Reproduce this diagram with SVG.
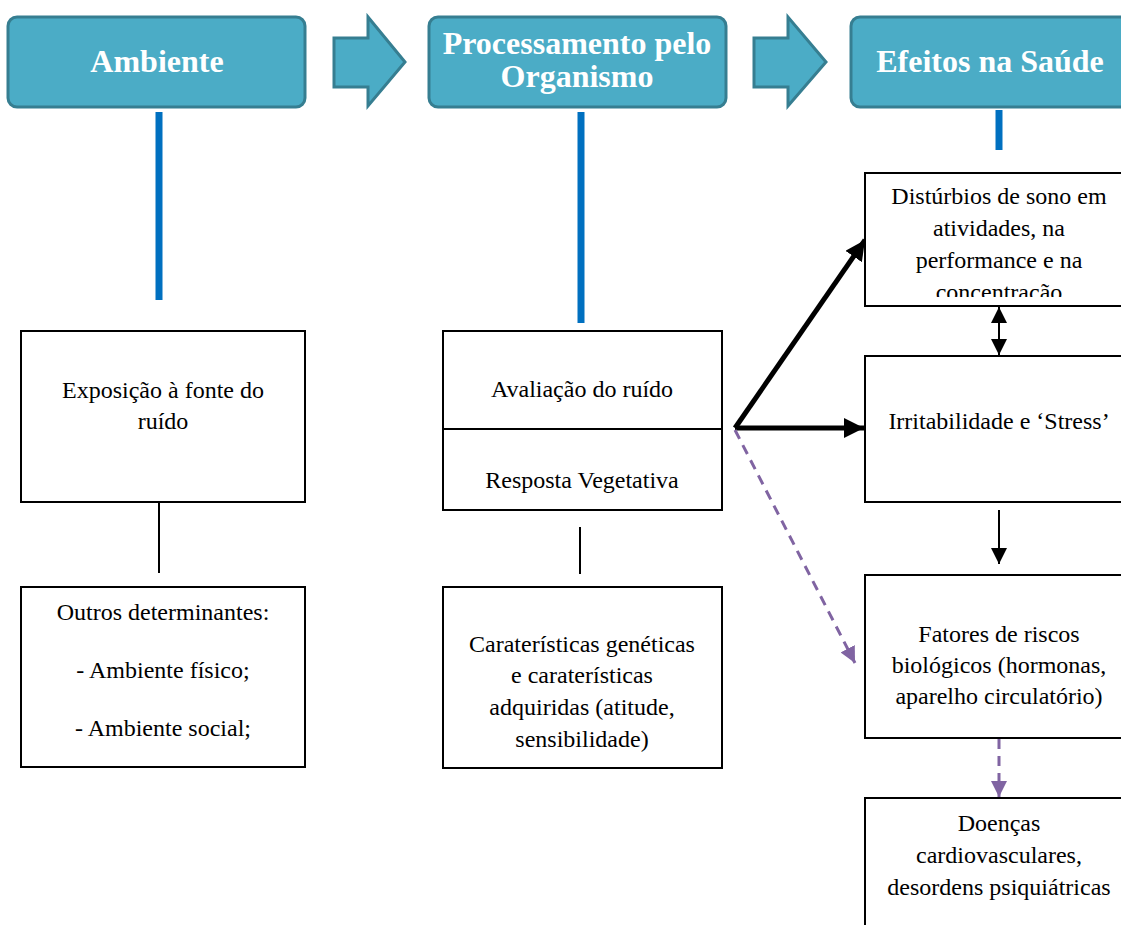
<svg xmlns="http://www.w3.org/2000/svg" width="1121" height="925" viewBox="0 0 1121 925">
<style>
.hdr{fill:#4bacc6;stroke:#367e91;stroke-width:3}
.hdrt{font-family:"Liberation Serif","Times New Roman",serif;font-weight:bold;font-size:32px;fill:#ffffff;text-anchor:middle}
.box{fill:#ffffff;stroke:#000000;stroke-width:2}
.t{font-family:"Liberation Serif","Times New Roman",serif;font-size:24px;fill:#000000;text-anchor:middle}
.blue{stroke:#0070c0;stroke-width:7}
.thin{stroke:#000000;stroke-width:2;fill:none}
.thick{stroke:#000000;stroke-width:5;fill:none}
.dash{stroke:#8064a2;stroke-width:3;stroke-dasharray:10 7;fill:none}
</style>
<defs>
<marker id="ah" markerUnits="userSpaceOnUse" viewBox="0 0 20 20" refX="20" refY="10" markerWidth="20" markerHeight="20" orient="auto"><path d="M0,0 L20,10 L0,20 Z" fill="#000"/></marker>
<marker id="as" markerUnits="userSpaceOnUse" viewBox="0 0 16 16" refX="16" refY="8" markerWidth="16" markerHeight="16" orient="auto-start-reverse"><path d="M0,0 L16,8 L0,16 Z" fill="#000"/></marker>
<marker id="ap" markerUnits="userSpaceOnUse" viewBox="0 0 16 16" refX="16" refY="8" markerWidth="16" markerHeight="16" orient="auto"><path d="M0,0 L16,8 L0,16 Z" fill="#8064a2"/></marker>
<clipPath id="clipA"><rect x="866" y="174" width="260" height="123"/></clipPath>
</defs>

<g id="header-ambiente">
<rect class="hdr" x="8" y="17" width="297" height="90" rx="9"/>
<text class="hdrt" x="157" y="72">Ambiente</text>
</g>
<g id="arrow-1">
<path class="hdr" d="M334,38 L368,38 L368,17 L405,62 L368,106 L368,87 L334,87 Z"/>
</g>
<g id="header-processamento">
<rect class="hdr" x="429" y="17" width="297" height="90" rx="9"/>
<text class="hdrt" x="577" y="54">Processamento pelo</text>
<text class="hdrt" x="577" y="87">Organismo</text>
</g>
<g id="arrow-2">
<path class="hdr" d="M754,38 L788,38 L788,17 L826,62 L788,106 L788,87 L754,87 Z"/>
</g>
<g id="header-efeitos">
<rect class="hdr" x="851" y="17" width="300" height="90" rx="9"/>
<text class="hdrt" x="990" y="72">Efeitos na Saúde</text>
</g>

<g id="connectors">
<line class="blue" x1="159" y1="112" x2="159" y2="300"/>
<line class="blue" x1="581" y1="112" x2="581" y2="323"/>
<line class="blue" x1="999" y1="110" x2="999" y2="150"/>
<line class="thin" x1="159" y1="502" x2="159" y2="573"/>
<line class="thin" x1="580" y1="527" x2="580" y2="574"/>
<line class="thick" x1="735" y1="428" x2="864" y2="428" marker-end="url(#ah)"/>
<line class="thick" x1="735" y1="428" x2="865" y2="240" marker-end="url(#ah)"/>
<line class="thin" x1="999" y1="307" x2="999" y2="355" marker-start="url(#as)" marker-end="url(#as)"/>
<line class="thin" x1="999" y1="510" x2="999" y2="564" marker-end="url(#as)"/>
<line class="dash" x1="735" y1="430" x2="855" y2="663" marker-end="url(#ap)"/>
<line class="dash" x1="999" y1="739" x2="999" y2="797" marker-end="url(#ap)"/>
</g>

<g id="box-exposicao">
<rect class="box" x="21" y="331" width="284" height="171"/>
<text class="t" x="163" y="398">Exposição à fonte do</text>
<text class="t" x="163" y="429">ruído</text>
</g>
<g id="box-outros">
<rect class="box" x="21" y="587" width="284" height="180"/>
<text class="t" x="163" y="620">Outros determinantes:</text>
<text class="t" x="163" y="678">- Ambiente físico;</text>
<text class="t" x="163" y="736">- Ambiente social;</text>
</g>
<g id="box-avaliacao">
<rect class="box" x="443" y="331" width="279" height="179"/>
<line class="thin" x1="443" y1="429" x2="722" y2="429"/>
<text class="t" x="582" y="397">Avaliação do ruído</text>
<text class="t" x="582" y="488">Resposta Vegetativa</text>
</g>
<g id="box-caracteristicas">
<rect class="box" x="443" y="587" width="279" height="181"/>
<text class="t" x="582" y="652">Caraterísticas genéticas</text>
<text class="t" x="582" y="683">e caraterísticas</text>
<text class="t" x="582" y="715">adquiridas (atitude,</text>
<text class="t" x="582" y="747">sensibilidade)</text>
</g>
<g id="box-disturbios">
<rect class="box" x="865" y="173" width="270" height="133"/>
<g clip-path="url(#clipA)">
<text class="t" x="999" y="204">Distúrbios de sono em</text>
<text class="t" x="999" y="236">atividades, na</text>
<text class="t" x="999" y="268">performance e na</text>
<text class="t" x="999" y="300">concentração</text>
</g>
</g>
<g id="box-irritabilidade">
<rect class="box" x="865" y="356" width="270" height="146"/>
<text class="t" x="999" y="429">Irritabilidade e ‘Stress’</text>
</g>
<g id="box-fatores">
<rect class="box" x="865" y="575" width="270" height="163"/>
<text class="t" x="999" y="642">Fatores de riscos</text>
<text class="t" x="999" y="673">biológicos (hormonas,</text>
<text class="t" x="999" y="704">aparelho circulatório)</text>
</g>
<g id="box-doencas">
<rect class="box" x="865" y="798" width="270" height="140"/>
<text class="t" x="999" y="831">Doenças</text>
<text class="t" x="999" y="863">cardiovasculares,</text>
<text class="t" x="999" y="895">desordens psiquiátricas</text>
</g>
</svg>
